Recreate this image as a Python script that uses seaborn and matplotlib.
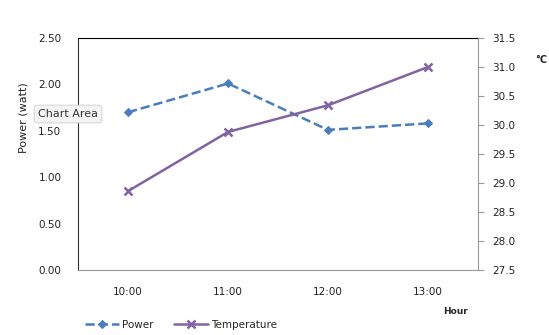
import pandas as pd
import matplotlib.pyplot as plt
import seaborn as sns

# Data
hours = ['10:00', '11:00', '12:00', '13:00']
power = [1.70, 2.01, 1.51, 1.58]
temperature = [28.86, 29.88, 30.34, 31.0]

df = pd.DataFrame({'Hour': hours, 'Power': power, 'Temperature': temperature})

sns.set_style('white')
plt.rcParams['font.family'] = ['DejaVu Sans']

fig = plt.figure(figsize=(5.49, 3.35), dpi=100)
ax = fig.add_axes([78 / 549, 1 - 270 / 335, 400 / 549, 232 / 335])
ax2 = ax.twinx()

blue = '#4a7ebb'
purple = '#8064a2'

sns.lineplot(data=df, x='Hour', y='Power', ax=ax, color=blue, linestyle='--',
             linewidth=1.8, marker='D', markersize=4.5, markeredgecolor=blue,
             sort=False, label='Power', legend=False)
sns.lineplot(data=df, x='Hour', y='Temperature', ax=ax2, color=purple,
             linewidth=1.8, marker='x', markersize=6, markeredgewidth=1.8,
             markeredgecolor=purple, sort=False, label='Temperature', legend=False)

ax.set_xlim(-0.5, 3.5)
ax.set_ylim(0, 2.5)
ax.set_yticks([0, 0.5, 1.0, 1.5, 2.0, 2.5])
ax.set_yticklabels([f'{v:.2f}' for v in [0, 0.5, 1.0, 1.5, 2.0, 2.5]])
ax2.set_ylim(27.5, 31.5)
ax2.set_yticks([27.5 + 0.5 * i for i in range(9)])
ax2.set_yticklabels([f'{27.5 + 0.5 * i:.1f}' for i in range(9)])

ax.set_xlabel('')
ax.set_ylabel('Power (watt)', fontsize=8, color='#222222')
ax.yaxis.set_label_coords(-50 / 400, 0.655)
ax2.set_ylabel('')

for a in (ax, ax2):
    for s in a.spines.values():
        s.set_visible(False)
ax.spines['top'].set_visible(True)
ax.spines['top'].set_color('black')
ax.spines['left'].set_visible(True)
ax.spines['left'].set_color('#333333')
ax.spines['bottom'].set_visible(True)
ax.spines['bottom'].set_color('#999999')
ax2.spines['right'].set_visible(True)
ax2.spines['right'].set_color('#999999')

ax.tick_params(axis='x', length=0, labelsize=7.5, pad=12, colors='#222222')
ax.tick_params(axis='y', length=0, labelsize=7.5, pad=12, colors='#222222')
ax2.tick_params(axis='y', length=4, width=0.8, color='#999999', labelsize=7.5,
                pad=6, labelcolor='#222222', right=True)

fig.text(541 / 549, 1 - 60 / 335, '°C', fontsize=7, fontweight='bold', ha='center', va='center')
fig.text(455 / 549, 1 - 312 / 335, 'Hour', fontsize=6.5, fontweight='bold', ha='center', va='center')

fig.text(38 / 549, 1 - 114 / 335, 'Chart Area', fontsize=8, color='#333333', va='center',
         bbox=dict(boxstyle='round,pad=0.35', facecolor='#f4f4f4', edgecolor='#cccccc', linewidth=0.6))

h1, l1 = ax.get_legend_handles_labels()
h2, l2 = ax2.get_legend_handles_labels()
fig.legend(h1 + h2, l1 + l2, loc='center left', bbox_to_anchor=(76 / 549, 1 - 325 / 335),
           ncol=2, frameon=False, fontsize=7.5, handlelength=3.2, columnspacing=2.0,
           handletextpad=0.3)

fig.savefig('out.png', dpi=100)
